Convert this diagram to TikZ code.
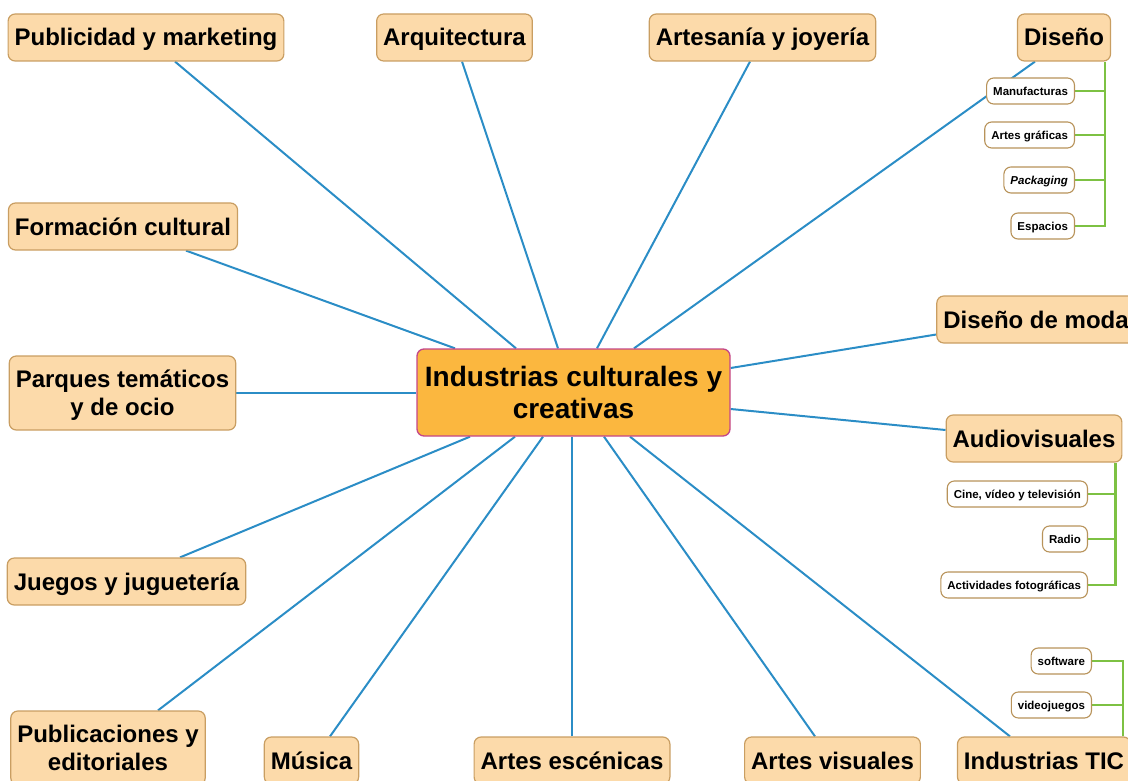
\documentclass[tikz,border=0pt]{standalone}
\usepackage{fontspec}
\setmainfont{Liberation Sans}
\usetikzlibrary{calc,backgrounds}
\definecolor{topicfill}{HTML}{FCDAAA}
\definecolor{topicedge}{HTML}{C99E62}
\definecolor{rootfill}{HTML}{FBB73F}
\definecolor{rootedge}{HTML}{C4468A}
\definecolor{subedge}{HTML}{B8935A}
\definecolor{linkblue}{HTML}{2B8DC6}
\definecolor{treegreen}{HTML}{7DC143}
\tikzset{
  root/.style={draw=rootedge, fill=rootfill, line width=1.3pt, rounded corners=7pt,
    minimum width=313pt, minimum height=87pt, align=center,
    text height=52pt, text depth=0pt,
    font=\bfseries\fontsize{28}{32}\selectfont},
  topic/.style={draw=topicedge, fill=topicfill, line width=1.2pt, rounded corners=7pt,
    inner xsep=6.5pt, inner ysep=0pt, minimum height=47pt, align=center,
    text height=17pt, text depth=0pt,
    font=\bfseries\fontsize{24}{27.5}\selectfont},
  twoline/.style={minimum height=74pt, text height=44.5pt},
  subtopic/.style={draw=subedge, fill=white, line width=1.1pt, rounded corners=7pt,
    inner xsep=6.5pt, inner ysep=0pt, minimum height=26pt,
    text height=8.3pt, text depth=0pt,
    font=\bfseries\fontsize{11.5}{13}\selectfont},
  link/.style={draw=linkblue, line width=2pt},
  branch/.style={draw=treegreen, line width=2.2pt},
}
\begin{document}
\begin{tikzpicture}[x=1pt,y=-1pt]
\useasboundingbox (0,0) rectangle (1128,781);

% central topic
\node[root] (ctr) at (573.5,392.5) {Industrias culturales y\\creativas};

% main topics
\node[topic] (pub)  at (146,37.5)  {Publicidad y marketing};
\node[topic] (arq)  at (454.5,37.5) {Arquitectura};
\node[topic] (art)  at (762.5,37.5) {Artesanía y joyería};
\node[topic] (dis)  at (1064,37.5) {Diseño};
\node[topic] (form) at (123,226.5) {Formación cultural};
\node[topic] (moda) at (1036,319.5) {Diseño de moda};
\node[topic, twoline] (parq) at (122.5,393) {Parques temáticos\\y de ocio};
\node[topic] (audio) at (1034,438.5) {Audiovisuales};
\node[topic] (jueg) at (126.5,581.5) {Juegos y juguetería};
\node[topic, twoline] (publ) at (108,748) {Publicaciones y\\editoriales};
\node[topic] (mus)  at (311.5,760.5) {Música};
\node[topic] (esc)  at (572,760.5) {Artes escénicas};
\node[topic] (vis)  at (832.5,760.5) {Artes visuales};
\node[topic] (tic)  at (1044,760.5) {Industrias TIC};

% subtopics of Diseño
\node[subtopic, anchor=east] (man) at (1075,91)  {Manufacturas};
\node[subtopic, anchor=east] (gra) at (1075,135) {Artes gráficas};
\node[subtopic, anchor=east] (pack) at (1075,180) {\itshape Packaging};
\node[subtopic, anchor=east] (esp) at (1075,226) {Espacios};

% subtopics of Audiovisuales
\node[subtopic, anchor=east] (cine) at (1088,494) {Cine, vídeo y televisión};
\node[subtopic, anchor=east] (radio) at (1088,539) {Radio};
\node[subtopic, anchor=east] (foto) at (1088,585) {Actividades fotográficas};

% subtopics of Industrias TIC
\node[subtopic, anchor=east] (soft) at (1092,661) {software};
\node[subtopic, anchor=east] (vjue) at (1092,705) {videojuegos};

\begin{scope}[on background layer]
  % spokes from the central topic
  \draw[link] ($(pub.south)+(29,0)$)    -- ($(ctr.north)+(-57.5,0)$);
  \draw[link] ($(arq.south)+(7.5,0)$)   -- ($(ctr.north)+(-15.5,0)$);
  \draw[link] ($(art.south)+(-12.5,0)$) -- ($(ctr.north)+(23.5,0)$);
  \draw[link] ($(dis.south)+(-29,0)$)   -- ($(ctr.north)+(60.5,0)$);
  \draw[link] ($(form.south)+(63,0)$)   -- ($(ctr.north)+(-118.5,0)$);
  \draw[link] ($(moda.west)+(0,15)$)    -- ($(ctr.east)+(0,-24.5)$);
  \draw[link] (parq.east) -- (parq.east -| ctr.west);
  \draw[link] ($(audio.west)+(0,-8.5)$) -- ($(ctr.east)+(0,16.5)$);
  \draw[link] ($(jueg.north)+(53.5,0)$) -- ($(ctr.south)+(-103.5,0)$);
  \draw[link] ($(publ.north)+(50,0)$)   -- ($(ctr.south)+(-58.5,0)$);
  \draw[link] ($(mus.north)+(18.5,0)$)  -- ($(ctr.south)+(-30.5,0)$);
  \draw[link] (esc.north) -- (esc.north |- ctr.south);
  \draw[link] ($(vis.north)+(-17.5,0)$) -- ($(ctr.south)+(30.5,0)$);
  \draw[link] ($(tic.north)+(-34,0)$)   -- ($(ctr.south)+(56.5,0)$);

  % Diseño tree
  \coordinate (dtrunk) at ($(dis.south east)+(-6,0)$);
  \draw[branch] (dtrunk) |- (esp.east);
  \draw[branch] (man.east) -- (man.east -| dtrunk);
  \draw[branch] (gra.east) -- (gra.east -| dtrunk);
  \draw[branch] (pack.east) -- (pack.east -| dtrunk);

  % Audiovisuales tree
  \coordinate (atrunk) at ($(audio.south east)+(-7,0)$);
  \draw[branch] (atrunk) |- (foto.east);
  \draw[branch] (cine.east) -- (cine.east -| atrunk);
  \draw[branch] (radio.east) -- (radio.east -| atrunk);

  % Industrias TIC tree
  \coordinate (ttrunk) at ($(tic.north east)+(-8,0)$);
  \draw[branch] (ttrunk) |- (soft.east);
  \draw[branch] (vjue.east) -- (vjue.east -| ttrunk);
\end{scope}
\end{tikzpicture}
\end{document}
